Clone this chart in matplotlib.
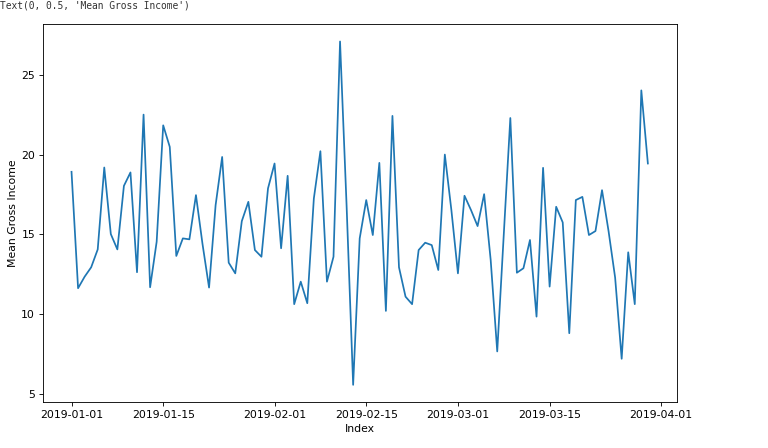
import numpy as np
import pandas as pd
import matplotlib
matplotlib.use('Agg')
import matplotlib.pyplot as plt

# daily mean gross income, 2019-01-01 .. 2019-03-30
dates = pd.date_range('2019-01-01', '2019-03-30', freq='D')
jan = [18.92, 11.63, 12.35, 12.94, 14.06, 19.19, 15.02, 14.06, 18.04, 18.88,
       12.63, 22.50, 11.69, 14.54, 21.83, 20.48, 13.65, 14.75, 14.69, 17.46,
       14.40, 11.67, 16.83, 19.85, 13.23, 12.56, 15.83, 17.04, 14.02, 13.60,
       17.88]
feb = [19.44, 14.13, 18.67, 10.63, 12.04, 10.69, 17.25, 20.21, 12.04, 13.60,
       27.08, 16.80, 5.58, 14.75, 17.15, 14.96, 19.48, 10.21, 22.42, 12.94,
       11.10, 10.63, 14.02, 14.48, 14.33, 12.77, 20.00, 16.52]
mar = [12.56, 17.42, 16.52, 15.52, 17.52, 13.40, 7.67, 15.00, 22.29, 12.60,
       12.88, 14.65, 9.85, 19.17, 11.73, 16.73, 15.75, 8.81, 17.15, 17.35,
       14.96, 15.21, 17.77, 15.20, 12.30, 7.21, 13.88, 10.63, 24.02, 19.44]
income = pd.Series(jan + feb + mar, index=dates)

# notebook-ish rendering: smaller dpi so fonts/lines match the screenshot
dpi = 78
fig = plt.figure(figsize=(768 / dpi, 448 / dpi), dpi=dpi)
ax = fig.add_axes([0.0556, 0.1027, 0.8255, 0.843])
ax.plot(income.index, income.values, color='#1f77b4', linewidth=1.6)
ax.set_yticks([5, 10, 15, 20, 25])
ax.set_xlabel('Index')
ax.set_ylabel('Mean Gross Income', labelpad=3)

# notebook output line above the figure
fig.text(0.0, 0.988, "Text(0, 0.5, 'Mean Gross Income')", family='DejaVu Sans Mono',
         fontsize=8.9, color='#333333', va='center', ha='left')

fig.savefig('out.png', dpi=dpi)
